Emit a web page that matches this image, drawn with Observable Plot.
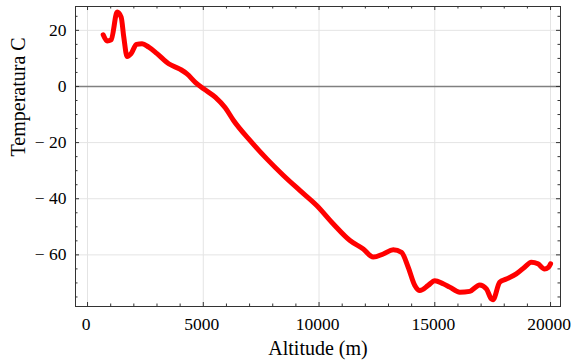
<!DOCTYPE html>
<html><head><meta charset="utf-8">
<script src="https://cdn.jsdelivr.net/npm/d3@7"></script>
<script src="https://cdn.jsdelivr.net/npm/@observablehq/plot@0.6"></script>
<style>body{margin:0;background:#fff}</style>
</head><body><div id="chart"></div>
<script>
const altitude = [676, 848, 1020, 1280, 1452, 1566, 1710, 1882, 2112, 2356, 2644, 3003, 3506, 4009, 4296, 4655, 5014, 5517, 5948, 6307, 7026, 7744, 8463, 9181, 9899, 10618, 11336, 11911, 12342, 12773, 13204, 13563, 13851, 14138, 14353, 14713, 15000, 15359, 15647, 16078, 16509, 16940, 17228, 17443, 17514, 17802, 18089, 18520, 18879, 19167, 19454, 19741, 19900, 20000];
const temperature = [18.4, 16.2, 16.6, 26.5, 24.7, 17.6, 10.7, 11.7, 15, 15.2, 14, 11.7, 8.1, 6.1, 4.5, 1.5, -0.8, -3.8, -7.6, -12.1, -19.3, -25.8, -31.7, -37.1, -42.4, -49, -54.9, -57.9, -60.8, -59.7, -58.2, -59.1, -64.4, -70.9, -72.7, -70.9, -69.2, -70.3, -71.5, -73.3, -73, -70.7, -72.1, -75.7, -76, -69.8, -68.6, -66.8, -64.4, -62.6, -63.2, -65, -64.5, -63.2];
const xMajorTicks = [0, 5000, 10000, 15000, 20000];
const xMinorTicks = d3.range(0, 20001, 1000).filter(d => d % 5000 !== 0);
const yMajorTicks = [20, 0, -20, -40, -60];
const yMinorTicks = d3.range(-75, 26, 5).filter(d => d % 20 !== 0);
const xLabel = "Altitude (m)";
const yLabel = "Temperatura C";

const data = altitude.map((a, i) => ({altitude: a, temperature: temperature[i]}));
const W = 571, H = 360, mt = 6, mb = 54, ml = 75, mr = 11;
const pw = W - ml - mr, ph = H - mt - mb;
const fmt = d => d < 0 ? "\u2212 " + (-d) : String(d);
const tickColor = "#333";
const serif = "Liberation Serif, Times New Roman, serif";

const chart = Plot.plot({
  width: W, height: H,
  marginTop: mt, marginBottom: mb, marginLeft: ml, marginRight: mr,
  style: {fontFamily: serif, fontSize: "18px", color: "#000", background: "#fff"},
  x: {domain: [-520, 20430], axis: null},
  y: {domain: [-78.4, 28.5], axis: null},
  marks: [
    Plot.gridX(xMajorTicks, {stroke: "#e4e4e4", strokeOpacity: 1}),
    Plot.gridY(yMajorTicks.filter(d => d !== 0), {stroke: "#e4e4e4", strokeOpacity: 1}),
    Plot.ruleY([0], {stroke: "#808080", strokeWidth: 1.5}),
    Plot.line(data, {x: "altitude", y: "temperature", stroke: "#ff0000", strokeWidth: 5, curve: "monotone-x"}),
    Plot.frame({stroke: tickColor}),
    Plot.ruleX(xMajorTicks, {insetTop: ph - 4, stroke: tickColor}),
    Plot.ruleX(xMajorTicks, {insetBottom: ph - 4, stroke: tickColor}),
    Plot.ruleX(xMinorTicks, {insetTop: ph - 2.5, stroke: tickColor}),
    Plot.ruleX(xMinorTicks, {insetBottom: ph - 2.5, stroke: tickColor}),
    Plot.ruleY(yMajorTicks, {insetRight: pw - 4, stroke: tickColor}),
    Plot.ruleY(yMajorTicks, {insetLeft: pw - 4, stroke: tickColor}),
    Plot.ruleY(yMinorTicks, {insetRight: pw - 2.5, stroke: tickColor}),
    Plot.ruleY(yMinorTicks, {insetLeft: pw - 2.5, stroke: tickColor}),
    Plot.text(xMajorTicks, {x: d => d, text: fmt, frameAnchor: "bottom", lineAnchor: "top", dy: 11, dx: -1.5, fontSize: 17.5, fontFamily: serif, fill: "#000"}),
    Plot.text(yMajorTicks, {y: d => d, text: fmt, frameAnchor: "left", textAnchor: "end", dx: -9, fontSize: 17.5, fontFamily: serif, fill: "#000"}),
    Plot.text([xLabel], {frameAnchor: "bottom", lineAnchor: "top", dy: 34, fontSize: 20, fontFamily: serif, fill: "#000"}),
    Plot.text([yLabel], {frameAnchor: "left", dx: -57, rotate: -90, fontSize: 20, fontFamily: serif, fill: "#000"})
  ]
});
document.getElementById("chart").appendChild(chart);
</script>
</body></html>
